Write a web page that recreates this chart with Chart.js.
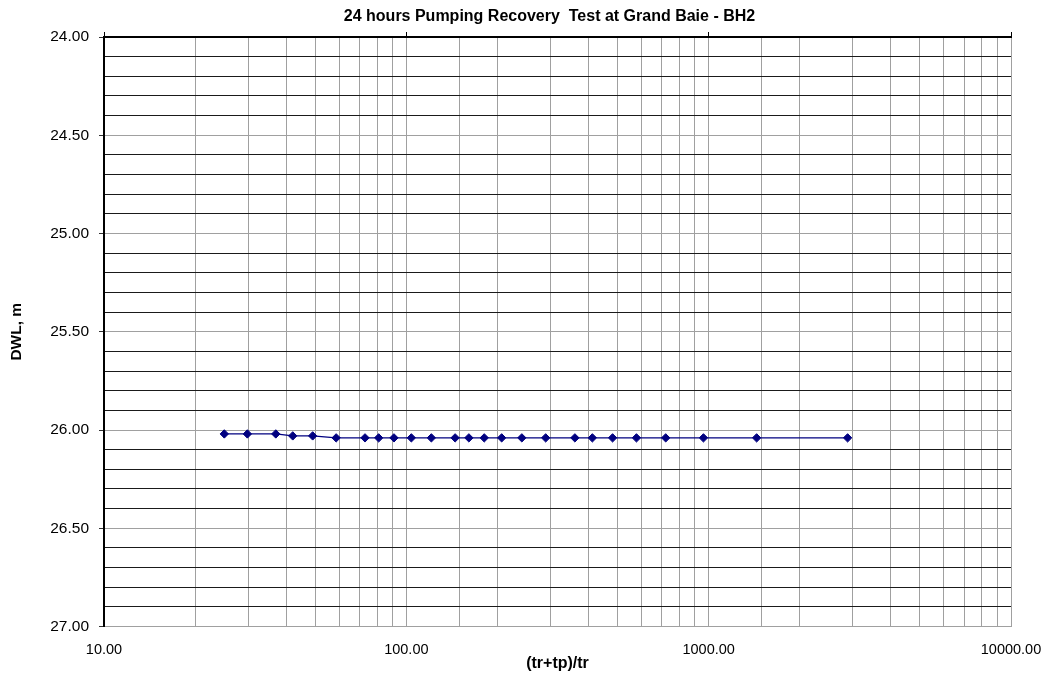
<!DOCTYPE html>
<html>
<head>
<meta charset="utf-8">
<script src="https://cdn.jsdelivr.net/npm/chart.js@4.4.0/dist/chart.umd.min.js"></script>
<style>
  html, body { margin: 0; padding: 0; background: #fff; }
  #wrap { width: 1050px; height: 675px; }
</style>
</head>
<body>
<div id="wrap"><canvas id="chart" width="1050" height="675"></canvas></div>
<script>
// recovery data
const ratio = [25, 29.8, 37, 42.1, 49, 58.6, 73, 81, 91, 103.9, 121, 145, 161, 181, 206.7, 241, 289, 361, 412.4, 481, 577, 721, 961, 1441, 2881];
const dwl = [26.02, 26.02, 26.02, 26.03, 26.03, 26.04, 26.04, 26.04, 26.04, 26.04, 26.04, 26.04, 26.04, 26.04, 26.04, 26.04, 26.04, 26.04, 26.04, 26.04, 26.04, 26.04, 26.04, 26.04, 26.04];

const xMin = 10, xMax = 10000;
const yMin = 24, yMax = 27;
const yStep = 0.1;

const chartTitle = '24 hours Pumping Recovery  Test at Grand Baie - BH2';

const FONT = "'Liberation Sans', Arial, sans-serif";
const GRAY = '#a0a0a0';
const DARK = '#1a1a1a';

function isDecade(v) {
    const l = Math.log10(v);
    return Math.abs(l - Math.round(l)) < 1e-6;
}
function tenths(v) {
    return Math.round(v * 10);
}

// Excel puts the title a little left of the plot centre
const titlePlugin = {
    id: 'sheetTitle',
    afterDraw(chart) {
        const a = chart.chartArea;
        const c = chart.ctx;
        c.save();
        c.fillStyle = '#000';
        c.font = 'bold 16px ' + FONT;
        c.textAlign = 'center';
        c.textBaseline = 'middle';
        c.fillText(chartTitle, (a.left + a.right) / 2 - 8, 17);
        c.restore();
    },
};

const points = ratio.map((x, i) => ({ x: x, y: dwl[i] }));

const ctx = document.getElementById('chart').getContext('2d');
new Chart(ctx, {
    type: 'scatter',
    data: {
        datasets: [{
            data: points,
            showLine: true,
            borderColor: '#000080',
            borderWidth: 1.2,
            backgroundColor: '#000080',
            pointStyle: 'rectRot',
            pointRadius: 4.2,
            pointBorderColor: '#000080',
            pointBorderWidth: 1,
        }],
    },
    options: {
        responsive: false,
        animation: false,
        layout: { padding: { left: 0, right: 39, top: 31, bottom: 0 } },
        plugins: {
            legend: { display: false },
            tooltip: { enabled: false },
            title: { display: false },
        },
        scales: {
            x: {
                type: 'logarithmic',
                position: 'bottom',
                min: xMin,
                max: xMax,
                afterFit: (s) => { s.height = 48.5; s.paddingLeft = 0; s.paddingRight = 0; },
                grid: { color: GRAY, lineWidth: 1, drawTicks: false },
                border: { color: GRAY, width: 1 },
                ticks: {
                    autoSkip: false,
                    maxRotation: 0,
                    padding: 15,
                    color: '#000',
                    font: { family: FONT, size: 14.5 },
                    callback: (v) => isDecade(v) ? Number(v).toFixed(2) : '',
                },
                title: {
                    display: true,
                    text: '(tr+tp)/tr',
                    color: '#000',
                    font: { family: FONT, size: 16, weight: 'bold' },
                    padding: { top: 0, bottom: 2 },
                },
            },
            xTop: {
                type: 'logarithmic',
                position: 'top',
                min: xMin,
                max: xMax,
                afterFit: (s) => { s.height = 6; s.paddingLeft = 0; s.paddingRight = 0; },
                grid: {
                    drawOnChartArea: false,
                    tickLength: 5,
                    tickColor: (c) => (c.tick && isDecade(c.tick.value)) ? '#000' : 'rgba(0,0,0,0)',
                },
                border: { color: '#000', width: 2 },
                ticks: { display: false, autoSkip: false },
            },
            y: {
                type: 'linear',
                reverse: true,
                min: yMin,
                max: yMax,
                afterFit: (s) => { s.width = 104; },
                grid: {
                    lineWidth: 1,
                    tickLength: 5,
                    color: (c) => {
                        const t = tenths(c.tick.value);
                        if (t === tenths(yMin)) return '#000';
                        return t % 5 === 0 ? GRAY : DARK;
                    },
                    tickColor: (c) => (tenths(c.tick.value) % 5 === 0) ? '#333' : 'rgba(0,0,0,0)',
                },
                border: { color: '#000', width: 2 },
                ticks: {
                    stepSize: yStep,
                    maxTicksLimit: 40,
                    autoSkip: false,
                    padding: 10,
                    color: '#000',
                    font: { family: FONT, size: 15.5 },
                    callback: (v) => tenths(v) % 5 === 0 ? Number(v).toFixed(2) : '',
                },
                title: {
                    display: true,
                    text: 'DWL, m',
                    color: '#000',
                    font: { family: FONT, size: 15.5, weight: 'bold' },
                    padding: { top: 7, bottom: 0 },
                },
            },
        },
    },
    plugins: [titlePlugin],
});
</script>
</body>
</html>
